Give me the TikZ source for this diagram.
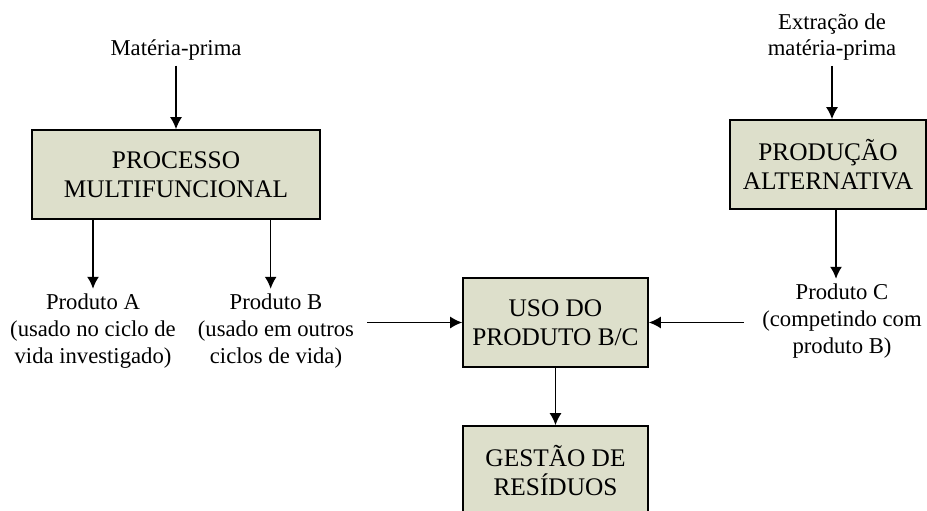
\documentclass[tikz,border=0pt]{standalone}
\usepackage{fontspec}
\setmainfont{Liberation Serif}
\usepackage{tikz}
\usetikzlibrary{positioning,arrows,arrows.meta,calc}
\definecolor{boxfill}{RGB}{221,223,203}
\tikzset{
    block/.style = {
        draw,
        fill=boxfill,
        shape=rectangle,
        minimum height=66.75pt,
        minimum width=138.75pt,
        align=center,
        inner sep=0pt,
        font=\fontsize{19}{22}\selectfont,
        line width=1.2pt
    },
    empty/.style = {
        shape=rectangle,
        align=center
    },
    >={Latex[length=9pt,width=9pt]},
}

\begin{document}
\begin{tikzpicture}[x=0.75pt,y=-0.75pt,font=\fontsize{17}{20}\selectfont,line width=1.2pt]
            \useasboundingbox (0,0) rectangle (927,510);
            \node[block, minimum width=216pt] (proc) at (176,174.5) {PROCESSO\\MULTIFUNCIONAL};
            \node[block, minimum width=147pt] (alt) at (828,164.5) {PRODUÇÃO\\ALTERNATIVA};
            \node[block] (uso) at (555.5,322.5) {USO DO\\PRODUTO B/C};
            \node[block] (gest) at (555.5,470.5) {GESTÃO DE\\RESÍDUOS};
            \node[empty] (mp) at (176,50) {Matéria-prima};
            \node[empty] (ext) at (832,37) {Extração de\\matéria-prima};
            \node[empty] (prodA) at (93,331) {Produto A\\(usado no ciclo de\\vida investigado)};
            \node[empty] (prodB) at (276,331) {Produto B\\(usado em outros\\ciclos de vida)};
            \node[empty] (prodC) at (842,321) {Produto C\\(competindo com\\produto B)};

            \path[draw, ->] (mp) -- (proc);
            \path[draw, ->] (ext.south -| alt.north) ++(4,0) -- ([xshift=3pt]alt.north);
            \path[draw, ->] (proc.south -| prodA.north) -- (prodA.north);
            \path[draw, ->] ([xshift=-4pt]proc.south -| prodB.north) -- ([xshift=-4pt]prodB.north);
            \path[draw, ->] ([xshift=6pt]alt.south) -- ([xshift=6pt]alt.south |- prodC.north);
            \path[draw, ->] ([xshift=6pt]prodB.east |- uso.west) -- (uso.west);
            \path[draw, ->] ([xshift=-10pt]prodC.west |- uso.east) -- (uso.east);
            \path[draw, ->] (uso) -- (gest);
        \end{tikzpicture}
\end{document}
